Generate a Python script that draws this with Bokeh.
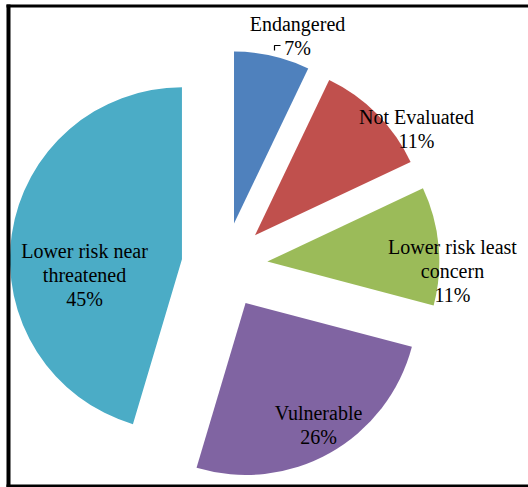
import math
from bokeh.plotting import figure, ColumnDataSource
from bokeh.models import Range1d
from bokeh.core.properties import value
from bokeh.embed import file_html
from bokeh.resources import INLINE

# ---- data (shares; labels show them rounded) ----
categories = ["Endangered", "Not Evaluated", "Lower risk least concern", "Vulnerable", "Lower risk near threatened"]
label_wrapped = ["Endangered", "Not Evaluated", "Lower risk least\nconcern", "Vulnerable", "Lower risk near\nthreatened"]
percents = [7.1, 10.9, 11.1, 25.5, 45.4]
colors = ["#4F81BD", "#C0504D", "#9BBB59", "#8064A2", "#4BACC6"]

# ---- layout (pixel space, y measured from top) ----
W, H = 528, 487
CX, CY = 224, 265
R = 172
EXPLODE = 43
label_anchor = [(297, 23), (416, 116), (452, 246), (318, 412), (84, 250)]
LINE_H = 24

def Y(ys):
    return H - ys

total = float(sum(percents))
xs, ys, starts, ends = [], [], [], []
cum = 0.0
for v in percents:
    a = cum / total
    b = (cum + v) / total
    cum += v
    mid = math.pi / 2 - 2 * math.pi * (a + b) / 2
    xs.append(CX + EXPLODE * math.cos(mid))
    ys.append(Y(CY) + EXPLODE * math.sin(mid))
    starts.append(math.pi / 2 - 2 * math.pi * b)
    ends.append(math.pi / 2 - 2 * math.pi * a)

src = ColumnDataSource(dict(x=xs, y=ys, start=starts, end=ends, color=colors, cat=categories))

p = figure(width=W, height=H, x_range=Range1d(0, W), y_range=Range1d(0, H),
           x_axis_type=None, y_axis_type=None, toolbar_location=None,
           output_backend="svg", min_border=0)
p.grid.visible = False
p.outline_line_color = None
p.background_fill_color = "white"
p.border_fill_color = "white"

p.wedge(x="x", y="y", radius=R, start_angle="start", end_angle="end",
        direction="anticlock", fill_color="color", line_color=None, source=src)

# labels
tx, ty, tt = [], [], []
for lab, v, (ax, ay) in zip(label_wrapped, percents, label_anchor):
    lines = lab.split("\n") + [f"{int(v / total * 100 + 0.5)}%"]
    for i, ln in enumerate(lines):
        tx.append(ax)
        ty.append(Y(ay + i * LINE_H))
        tt.append(ln)
p.text(x=tx, y=ty, text=tt, text_font=value("Liberation Serif"), text_font_size="20px",
       text_align="center", text_baseline="alphabetic", text_color="black")

# leader line for Endangered
p.line(x=[280, 274, 274], y=[Y(45), Y(45), Y(50)], line_color="black", line_width=1.2)

# frame
p.line(x=[8, 8], y=[Y(4), Y(487)], line_color="black", line_width=4)
p.line(x=[6, 540], y=[Y(5.5), Y(5.5)], line_color="black", line_width=3)
p.line(x=[6, 540], y=[Y(485.5), Y(485.5)], line_color="black", line_width=3)

open("out.html", "w").write(file_html(p, INLINE))
